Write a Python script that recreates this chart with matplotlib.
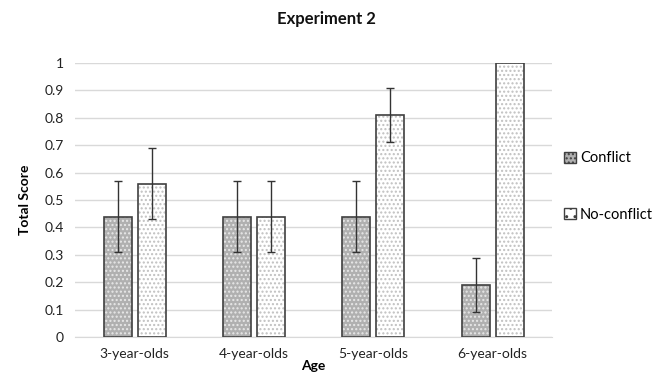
import numpy as np
import matplotlib.pyplot as plt
from matplotlib.patches import Patch

plt.rcParams['font.family'] = ['Lato', 'DejaVu Sans']

ages = ['3-year-olds', '4-year-olds', '5-year-olds', '6-year-olds']
conflict = [0.44, 0.44, 0.44, 0.19]
conflict_err = [0.13, 0.13, 0.13, 0.10]
no_conflict = [0.56, 0.44, 0.81, 1.0]
no_conflict_err = [0.13, 0.13, 0.10, 0.0]

fig = plt.figure(figsize=(6.52, 3.75), dpi=100)
ax = fig.add_axes([0.115, 0.101, 0.732, 0.731])

x = np.arange(len(ages))
w = 0.235
gap = 0.05

# hatch layer (hatch colour follows edgecolor), then outline on top
ax.bar(x - w / 2 - gap / 2, conflict, w, color='#b0b0b0', edgecolor='#e8e8e8',
       hatch='....', linewidth=0, zorder=2)
ax.bar(x - w / 2 - gap / 2, conflict, w, fill=False, edgecolor='#404040',
       linewidth=1.2, zorder=3)
ax.bar(x + w / 2 + gap / 2, no_conflict, w, color='white', edgecolor='#c0c0c0',
       hatch='....', linewidth=0, zorder=2)
ax.bar(x + w / 2 + gap / 2, no_conflict, w, fill=False, edgecolor='#404040',
       linewidth=1.2, zorder=3)

ax.errorbar(x - w / 2 - gap / 2, conflict, yerr=conflict_err, fmt='none',
            ecolor='#333333', elinewidth=1, capsize=3, zorder=4)
ne = np.array(no_conflict_err)
mask = ne > 0
ax.errorbar((x + w / 2 + gap / 2)[mask], np.array(no_conflict)[mask], yerr=ne[mask],
            fmt='none', ecolor='#333333', elinewidth=1, capsize=3, zorder=4)

ax.set_xlim(-0.5, len(ages) - 0.5)
ax.set_ylim(0, 1)
ax.set_yticks(np.arange(0, 1.01, 0.1))
ax.set_yticklabels(['0', '0.1', '0.2', '0.3', '0.4', '0.5', '0.6', '0.7', '0.8', '0.9', '1'])
ax.set_xticks(x)
ax.set_xticklabels(ages)
ax.tick_params(axis='both', length=0, labelsize=10, colors='#222222', pad=8)
ax.grid(axis='y', color='#d9d9d9', linewidth=1, zorder=0)
ax.set_axisbelow(True)
for s in ['top', 'right', 'left']:
    ax.spines[s].set_visible(False)
ax.spines['bottom'].set_color('#d9d9d9')

ax.set_xlabel('Age', fontsize=10, fontweight='bold', labelpad=0)
ax.set_ylabel('Total Score', fontsize=10, fontweight='bold', labelpad=10)
fig.text(0.5, 0.95, 'Experiment 2', ha='center', va='center', fontsize=12,
         fontweight='bold', color='#111111')

handles = [Patch(facecolor='#b0b0b0', edgecolor='#404040', hatch='....', label='Conflict'),
           Patch(facecolor='white', edgecolor='#404040', hatch='..', label='No-conflict')]
fig.legend(handles=handles, loc='center left', bbox_to_anchor=(0.845, 0.503),
           frameon=False, fontsize=10.5, handlelength=0.8, handleheight=0.8,
           handletextpad=0.3, labelspacing=2.9)

fig.savefig('out.png', dpi=100)
